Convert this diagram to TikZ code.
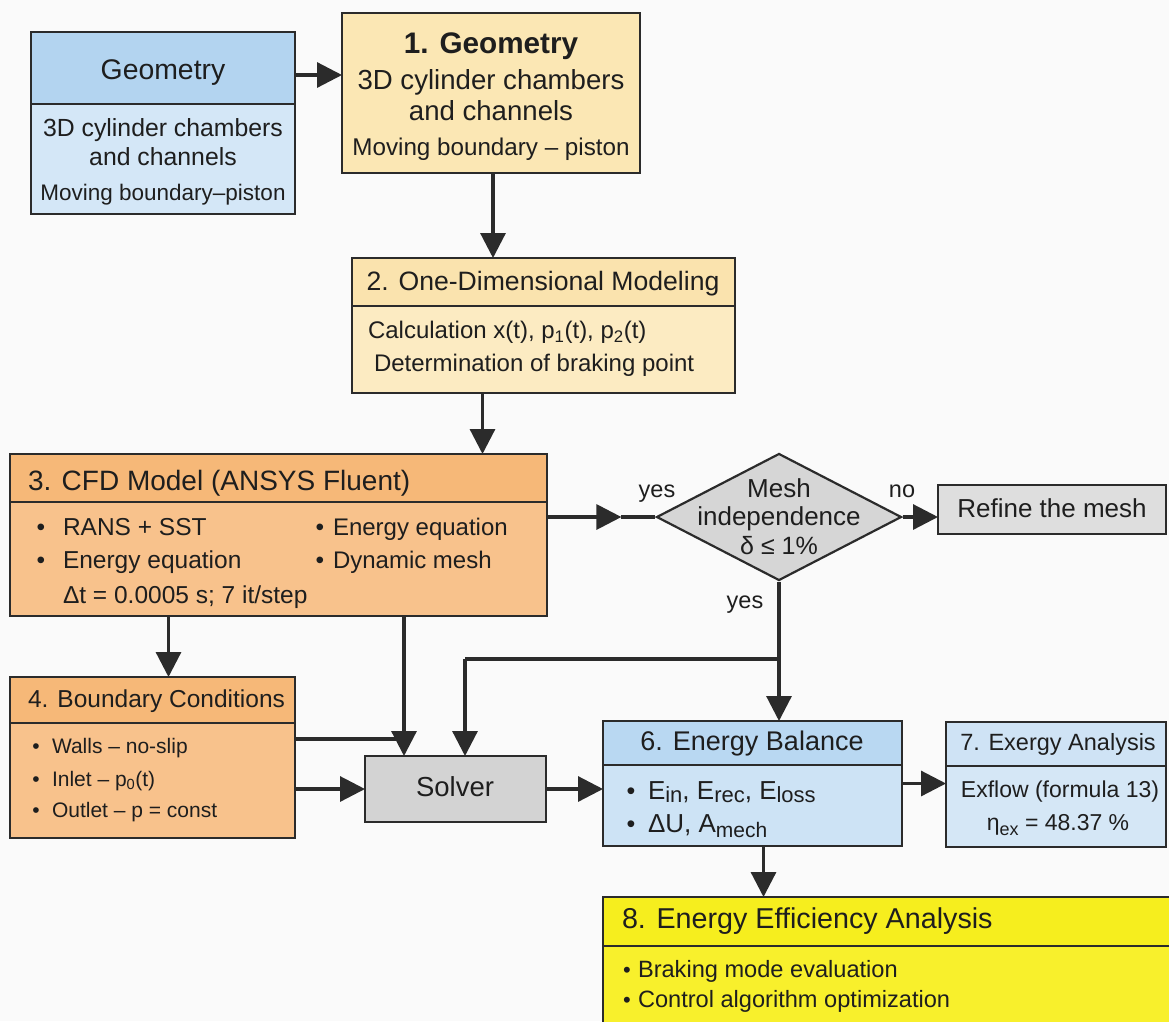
\documentclass[tikz,border=0pt]{standalone}
\usepackage{fontspec}
\setmainfont{Liberation Sans}
\usetikzlibrary{shapes.geometric,arrows.meta}
\definecolor{bgc}{HTML}{FAFAFA}
\definecolor{linec}{HTML}{2B2B2B}
\definecolor{txtc}{HTML}{1E1E1E}
\definecolor{gzh}{HTML}{B3D4F0}
\definecolor{gzb}{HTML}{D4E7F7}
\definecolor{yone}{HTML}{FBE7B4}
\definecolor{ytwoh}{HTML}{FAE3AE}
\definecolor{ytwob}{HTML}{FCEBC2}
\definecolor{orh}{HTML}{F6B878}
\definecolor{orb}{HTML}{F8C28C}
\definecolor{grd}{HTML}{D6D6D6}
\definecolor{grs}{HTML}{D3D3D3}
\definecolor{grr}{HTML}{DEDEDE}
\definecolor{bsh}{HTML}{B9D8F2}
\definecolor{bsb}{HTML}{CDE3F5}
\definecolor{bvh}{HTML}{CFE3F5}
\definecolor{bvb}{HTML}{D5E7F6}
\definecolor{yeh}{HTML}{F6EE1E}
\definecolor{yeb}{HTML}{F8F02C}
\newcommand\fsz[1]{\fontsize{#1}{#1}\selectfont}
\newcommand\lsub[3]{\raisebox{-#2pt}{\fsz{#1}#3}}
\begin{document}
\begin{tikzpicture}[x=1pt,y=-1pt,
  box/.style={draw=linec, line width=2.2pt, inner sep=0pt, outer sep=0pt, anchor=north west},
  t/.style={inner sep=0pt, outer sep=0pt, text=txtc, anchor=mid, yshift=-5pt},
  tl/.style={t, anchor=mid west},
  conn/.style={draw=linec, line width=3.2pt},
  arr/.style={conn, -{Triangle[length=25pt,width=25pt]}},
  lab/.style={t, font=\fsz{23.5}},
]
\fill[bgc] (0,0) rectangle (1169,1021);
\useasboundingbox (0,0) rectangle (1169,1021);

% Geometry (left)
\node[box, fill=gzh, minimum width=264pt, minimum height=72pt] (g0h) at (31,32) {};
\node[box, fill=gzb, minimum width=264pt, minimum height=110pt] (g0b) at (g0h.south west) {};
\node[t, font=\fsz{28.4}] (g0t) at (163,72) {Geometry};
\node[t, font=\fsz{24.8}] (g0a) at (163,129) {3D cylinder chambers};
\node[t, font=\fsz{24.8}] (g0c) at (163,158) {and channels};
\node[t, font=\fsz{22.5}] (g0d) at (163,193) {Moving boundary–piston};

% 1. Geometry
\node[box, fill=yone, minimum width=298pt, minimum height=160pt] (b1) at (342,13) {};
\node[t, font=\fsz{29.7}\bfseries] (b1t) at (491,46) {1. Geometry};
\node[t, font=\fsz{27.6}] (b1a) at (491,82) {3D cylinder chambers};
\node[t, font=\fsz{27.6}] (b1c) at (491,113) {and channels};
\node[t, font=\fsz{24.2}] (b1d) at (491,148) {Moving boundary – piston};

% 2. One-dimensional modeling
\node[box, fill=ytwoh, minimum width=383pt, minimum height=48pt] (b2h) at (352,258) {};
\node[box, fill=ytwob, minimum width=383pt, minimum height=87pt] (b2b) at (b2h.south west) {};
\node[t, font=\fsz{26.6}] (b2t) at (543,283) {2. One-Dimensional Modeling};
\node[tl, font=\fsz{24}] (b2a) at (368,331) {Calculation x(t), p\textsubscript{1}(t), p\textsubscript{2}(t)};
\node[tl, font=\fsz{24}] (b2c) at (374,364) {Determination of braking point};

% 3. CFD model
\node[box, fill=orh, minimum width=537pt, minimum height=48pt] (b3h) at (10,454) {};
\node[box, fill=orb, minimum width=537pt, minimum height=114pt] (b3b) at (b3h.south west) {};
\node[tl, font=\fsz{28}] (b3t) at (28,483) {3. CFD Model (ANSYS Fluent)};
\node[t, font=\fsz{24.5}] (b3p1) at (41,528) {•};
\node[tl, font=\fsz{24.5}] (b3a) at (63,528) {RANS + SST};
\node[t, font=\fsz{24.5}] (b3p2) at (41,561) {•};
\node[tl, font=\fsz{24.5}] (b3c) at (63,561) {Energy equation};
\node[tl, font=\fsz{24.5}] (b3d) at (63,596) {Δt = 0.0005 s;\ 7 it/step};
\node[t, font=\fsz{24.5}] (b3p3) at (320,528) {•};
\node[tl, font=\fsz{24}] (b3e) at (333,528) {Energy equation};
\node[t, font=\fsz{24.5}] (b3p4) at (320,561) {•};
\node[tl, font=\fsz{24}] (b3f) at (333,561) {Dynamic mesh};

% 4. Boundary conditions
\node[box, fill=orh, minimum width=285pt, minimum height=46pt] (b4h) at (10,677) {};
\node[box, fill=orb, minimum width=285pt, minimum height=115pt] (b4b) at (b4h.south west) {};
\node[tl, font=\fsz{24.5}] (b4t) at (28,700) {4. Boundary Conditions};
\node[t, font=\fsz{21}] (b4p1) at (36,746) {•};
\node[tl, font=\fsz{21}] (b4a) at (52,746) {Walls – no-slip};
\node[t, font=\fsz{21}] (b4p2) at (36,779) {•};
\node[tl, font=\fsz{21}] (b4c) at (52,779) {Inlet – p\textsubscript{0}(t)};
\node[t, font=\fsz{21}] (b4p3) at (36,810) {•};
\node[tl, font=\fsz{21}] (b4d) at (52,810) {Outlet – p = const};

% Solver
\node[box, fill=grs, minimum width=181pt, minimum height=66pt] (sol) at (365,756) {};
\node[t, font=\fsz{27.5}] (solt) at (455,789) {Solver};

% Decision
\node[draw=linec, line width=2.2pt, fill=grd, shape=diamond, aspect=1.93, minimum width=245pt, minimum height=127pt, inner sep=0pt] (dia) at (779,517) {};
\node[t, font=\fsz{26}] (dia1) at (779,490) {Mesh};
\node[t, font=\fsz{26}] (dia2) at (779,518) {independence};
\node[t, font=\fsz{25}] (dia3) at (779,547) {δ ≤ 1\%};

% Refine
\node[box, fill=grr, minimum width=228pt, minimum height=49pt] (ref) at (938,485) {};
\node[t, font=\fsz{26}] (reft) at (1052,510) {Refine the mesh};

% 6. Energy balance
\node[box, fill=bsh, minimum width=299pt, minimum height=44pt] (b6h) at (603,721) {};
\node[box, fill=bsb, minimum width=299pt, minimum height=81pt] (b6b) at (b6h.south west) {};
\node[t, font=\fsz{27}] (b6t) at (752,743) {6. Energy Balance};
\node[t, font=\fsz{25}] (b6p1) at (631,792) {•};
\node[tl, font=\fsz{26}] (b6a) at (648,792) {E\lsub{22}{3}{in}, E\lsub{22}{3}{rec}, E\lsub{22}{3}{loss}};
\node[t, font=\fsz{25}] (b6p2) at (631,825) {•};
\node[tl, font=\fsz{26}] (b6c) at (648,825) {ΔU, A\lsub{21}{5}{mech}};

% 7. Exergy analysis
\node[box, fill=bvh, minimum width=220pt, minimum height=44pt] (b7h) at (946,722) {};
\node[box, fill=bvb, minimum width=220pt, minimum height=81pt] (b7b) at (b7h.south west) {};
\node[t, font=\fsz{23.5}] (b7t) at (1058,743) {7. Exergy Analysis};
\node[t, font=\fsz{23}] (b7a) at (1060,790) {Exflow (formula 13)};
\node[t, font=\fsz{23}] (b7c) at (1058,823) {η\lsub{18}{5}{ex} = 48.37 \%};

% 8. Energy efficiency analysis
\node[box, fill=yeh, minimum width=590pt, minimum height=49pt] (b8h) at (603,897) {};
\node[box, fill=yeb, minimum width=590pt, minimum height=130pt] (b8b) at (b8h.south west) {};
\node[tl, font=\fsz{28.7}] (b8t) at (622,921) {8. Energy Efficiency Analysis};
\node[t, font=\fsz{22}] (b8p1) at (627,970) {•};
\node[tl, font=\fsz{23.6}] (b8a) at (638,970) {Braking mode evaluation};
\node[t, font=\fsz{22}] (b8p2) at (627,1000) {•};
\node[tl, font=\fsz{23.6}] (b8c) at (638,1000) {Control algorithm optimization};

% labels
\node[lab] (ly1) at (657,490) {yes};
\node[lab] (lno) at (902,490) {no};
\node[lab] (ly2) at (745,601) {yes};

% connectors
\draw[arr] ([yshift=-7pt]g0h.east) -- ([yshift=-7pt]g0h.east -| b1.west);
\draw[arr] ([xshift=2pt]b1.south) -- ([xshift=2pt]b1.south |- b2h.north);
\draw[arr] ([xshift=-61pt]b2b.south) -- ([xshift=-61pt]b2b.south |- b3h.north);
\draw[arr] ([xshift=16pt]b4h.north |- b3b.south) -- ([xshift=16pt]b4h.north);
\coordinate (sin1) at ([xshift=39pt]sol.north west);
\coordinate (sin2) at ([xshift=100pt]sol.north west);
\coordinate (wl) at ([yshift=-16pt]b4b.north east);
\draw[arr] (sin1 |- b3b.south) -- (sin1);
\draw[conn] (wl) -- (sin1 |- wl);
\draw[arr] (sol.west -| b4b.east) -- (sol.west);
\draw[arr] (sol.east) -- (sol.east -| b6b.west);
\coordinate (m1) at ([xshift=-34pt]dia.west);
\draw[arr] (dia.west -| b3b.east) -- (m1);
\draw[conn] (m1) -- (dia.west);
\draw[arr] (dia.east) -- (dia.east -| ref.west);
\draw[arr] (dia.south) -- (dia.south |- b6h.north);
\coordinate (jn) at ([yshift=62pt]dia.south |- b6h.north);
\draw[conn] (jn) -- (jn -| sin2);
\draw[arr] (jn -| sin2) -- (sin2);
\draw[arr] ([yshift=22pt]b6b.east) -- ([yshift=22pt]b6b.east -| b7b.west);
\draw[arr] ([xshift=11pt]b6b.south) -- ([xshift=11pt]b6b.south |- b8h.north);
\end{tikzpicture}
\end{document}
